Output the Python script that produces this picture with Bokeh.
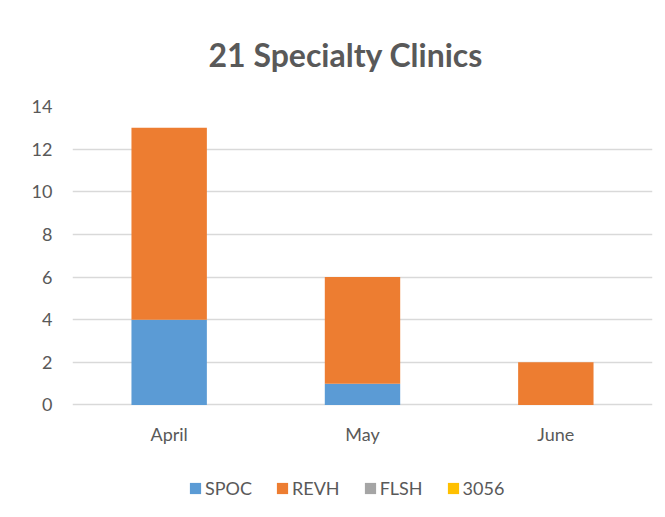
from bokeh.plotting import figure
from bokeh.models import ColumnDataSource, Legend, FixedTicker, Range1d, FactorRange
from bokeh.embed import file_html
from bokeh.resources import INLINE

months = ["April", "May", "June"]
series = ["SPOC", "REVH", "FLSH", "3056"]
spoc = [4, 1, 0]
revh = [9, 5, 2]
flsh = [0, 0, 0]
s3056 = [0, 0, 0]
y_ticks = [0, 2, 4, 6, 8, 10, 12, 14]
colors = ["#5B9BD5", "#ED7D31", "#A5A5A5", "#FFC000"]
title_text = "21 Specialty Clinics"

FONT = "Lato"
TXT = "#595959"

source = ColumnDataSource(dict(month=months, SPOC=spoc, REVH=revh, FLSH=flsh, **{"3056": s3056}))

# frame extends below the value axis to host the legend; 0 sits where the reference baseline is
p = figure(x_range=FactorRange(*months, range_padding=0), y_range=Range1d(-5.28, 14),
           width=665, height=517,
           output_backend="svg", toolbar_location=None,
           min_border_left=72, min_border_right=13, min_border_top=106, min_border_bottom=0)

renderers = p.vbar_stack(series, x="month", width=0.39, color=colors, line_color=None, source=source)

p.title.text = title_text
p.title.text_font = FONT
p.title.text_font_size = "32px"
p.title.text_font_style = "bold"
p.title.text_color = TXT
p.title.align = "left"
p.title.offset = 136
p.title.standoff = 65

p.outline_line_color = None
p.background_fill_color = "white"
p.border_fill_color = "white"

p.xgrid.grid_line_color = None
p.ygrid.grid_line_color = "#D9D9D9"
p.ygrid.grid_line_width = 1.4

p.yaxis.ticker = FixedTicker(ticks=y_ticks)
p.yaxis.axis_line_color = None
p.yaxis.major_tick_line_color = None
p.yaxis.minor_tick_line_color = None
p.yaxis.major_label_text_font = FONT
p.yaxis.major_label_text_font_size = "18px"
p.yaxis.major_label_text_color = TXT
p.yaxis.major_label_standoff = 14

p.xaxis.fixed_location = 0
p.xaxis.axis_line_color = None
p.xaxis.major_tick_line_color = None
p.xaxis.minor_tick_line_color = None
p.xaxis.major_label_text_font = FONT
p.xaxis.major_label_text_font_size = "18px"
p.xaxis.major_label_text_color = TXT
p.xaxis.major_label_standoff = 12

legend = Legend(items=[(s, [r]) for s, r in zip(series, renderers)],
                orientation="horizontal", location=(116, 18),
                glyph_width=14, glyph_height=14, label_standoff=3, spacing=23,
                label_text_font=FONT, label_text_font_size="18px", label_text_color=TXT,
                border_line_color=None, background_fill_alpha=0, padding=5, margin=0)
p.add_layout(legend, "center")

open("out.html", "w").write(file_html(p, INLINE))
